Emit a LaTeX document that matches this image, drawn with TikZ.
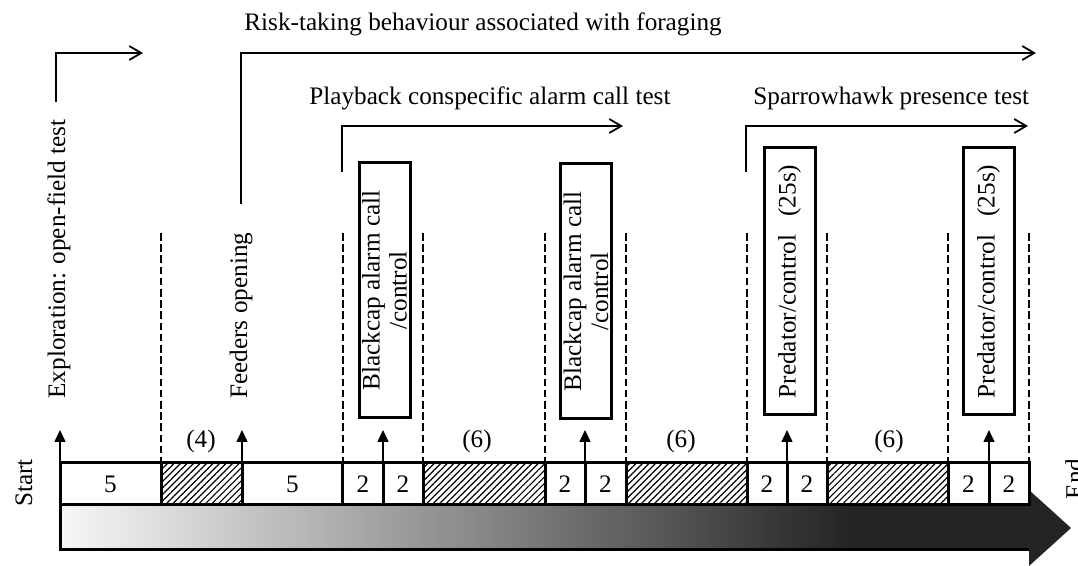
\documentclass[tikz,border=0pt]{standalone}
\usepackage{fontspec}
\setmainfont{Liberation Serif}
\usetikzlibrary{arrows.meta,patterns.meta}
\begin{document}
\begin{tikzpicture}[x=0.5pt,y=-0.5pt,
  txt/.style={font=\fontsize{12.6}{13.5}\selectfont, inner sep=0pt},
  vtxt/.style={txt, rotate=90},
  cellbox/.style={draw, line width=1.5pt, fill=white},
  hatchbox/.style={draw, line width=1.5pt, fill=white, postaction={pattern={Lines[angle=45,distance=2.3pt,line width=0.6pt]}}},
  sepline/.style={dash pattern=on 3.8pt off 1.8pt, line width=0.9pt},
  uparr/.style={line width=0.75pt, -{Triangle[length=6pt,width=5.5pt]}},
  brack/.style={line width=0.9pt, -{Straight Barb[length=6pt,width=7pt]}},
  evtbox/.style={vtxt, draw, line width=1.5pt, minimum height=25.5pt, align=center}
]
\useasboundingbox (0,0) rectangle (1078,566);

% gradient time arrow
\fill[black!86] (850,505) -- (1029,505) -- (1029,490) -- (1071,528) -- (1029,566) -- (1029,550) -- (850,550) -- cycle;
\shade[left color=black!3, right color=black!86] (60,505) rectangle (851,550);
\draw[line width=1.5pt] (1029,505) -- (60,505) -- (60,550) -- (1029,550);

% cells
\draw[cellbox] (60,463) rectangle (161,505);
\draw[hatchbox] (161,463) rectangle (242,505);
\draw[cellbox] (242,463) rectangle (342.6,505);
\draw[cellbox] (342.6,463) rectangle (383,505);
\draw[cellbox] (383,463) rectangle (423,505);
\draw[hatchbox] (423,463) rectangle (545,505);
\draw[cellbox] (545,463) rectangle (585,505);
\draw[cellbox] (585,463) rectangle (626,505);
\draw[hatchbox] (626,463) rectangle (747,505);
\draw[cellbox] (747,463) rectangle (787,505);
\draw[cellbox] (787,463) rectangle (827,505);
\draw[hatchbox] (827,463) rectangle (948,505);
\draw[cellbox] (948,463) rectangle (989,505);
\draw[cellbox] (989,463) rectangle (1029,505);

\node[txt] (n1) at (110.5,484) {5};
\node[txt] (n2) at (292.3,484) {5};
\node[txt] (n3) at (362.8,484) {2};
\node[txt] (n4) at (403,484) {2};
\node[txt] (n5) at (565,484) {2};
\node[txt] (n6) at (605.5,484) {2};
\node[txt] (n7) at (767,484) {2};
\node[txt] (n8) at (807,484) {2};
\node[txt] (n9) at (968.5,484) {2};
\node[txt] (n10) at (1009,484) {2};

% pause labels
\node[txt] (p1) at (201,441) {(4)};
\node[txt] (p2) at (477,441) {(6)};
\node[txt] (p3) at (681,441) {(6)};
\node[txt] (p4) at (889,441) {(6)};

% dashed separators
\foreach \xx [count=\i] in {161,342.6,423,545,626,747,827,948,1029}{
  \coordinate (d\i t) at (\xx,233);
  \coordinate (d\i b) at (\xx,463);
  \draw[sepline] (d\i t) -- (d\i b);
}

% upward event arrows
\foreach \xx [count=\i] in {60,242,383,585,787,989}{
  \coordinate (u\i b) at (\xx,505);
  \coordinate (u\i t) at (\xx,430);
  \draw[uparr] (u\i b) -- (u\i t);
}

% Start / End
\node[vtxt] (start) at (24,483) {Start};
\node[vtxt, anchor=north] (end) at (1065,479) {End};

% rotated labels
\node[vtxt, anchor=base west] (expl) at (65,399) {Exploration: open-field test};
\node[vtxt, anchor=base west] (feed) at (247,399) {Feeders opening};

% event boxes
\node[evtbox, minimum width=127.5pt] (bc1) at (384.5,290.5) {Blackcap alarm call\\/control};
\node[evtbox, minimum width=127.5pt] (bc2) at (586,291.5) {Blackcap alarm call\\/control};
\node[evtbox, minimum width=133.5pt] (pr1) at (789.5,281.5) {Predator/control\hspace{9pt}(25s)};
\node[evtbox, minimum width=133.5pt] (pr2) at (988.5,281.5) {Predator/control\hspace{9pt}(25s)};

% headers
\node[txt, anchor=base west] (risk) at (244,31) {Risk-taking behaviour associated with foraging};
\node[txt, anchor=base west] (play) at (309,105) {Playback conspecific alarm call test};
\node[txt, anchor=base west] (spar) at (753,105) {Sparrowhawk presence test};

% bracket arrows
\coordinate (ex0) at (56,102); \coordinate (ex1) at (56,53); \coordinate (ex2) at (143,53);
\draw[brack] (ex0) -- (ex1) -- (ex2);
\coordinate (rk0) at (241,204); \coordinate (rk1) at (241,53); \coordinate (rk2) at (1036,53);
\draw[brack] (rk0) -- (rk1) -- (rk2);
\coordinate (pb0) at (342,172); \coordinate (pb1) at (342,126); \coordinate (pb2) at (623,126);
\draw[brack] (pb0) -- (pb1) -- (pb2);
\coordinate (sp0) at (746,172); \coordinate (sp1) at (746,126); \coordinate (sp2) at (1028,126);
\draw[brack] (sp0) -- (sp1) -- (sp2);
\end{tikzpicture}
\end{document}
